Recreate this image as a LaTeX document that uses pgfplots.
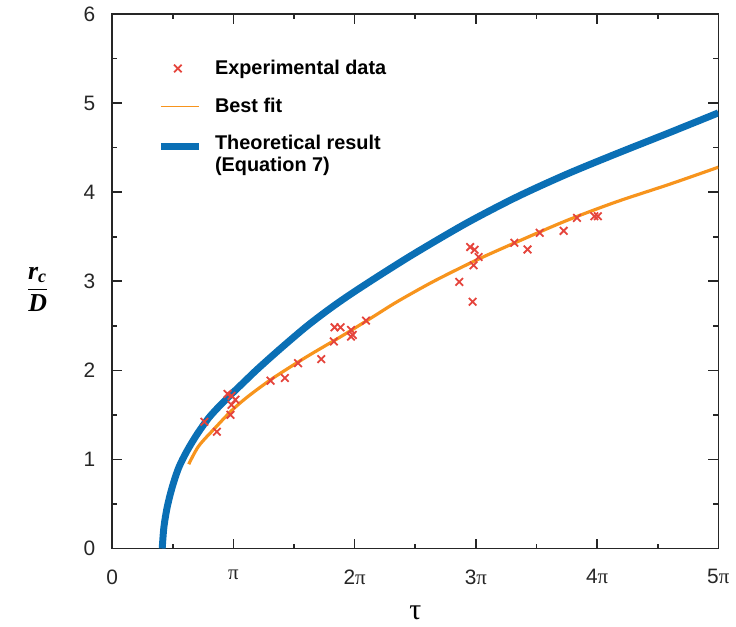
\documentclass[border=0pt]{standalone}
\usepackage{amsmath}
\usepackage{fontspec}
\setmainfont{Liberation Sans}
\newfontfamily\serif{Liberation Serif}
\usepackage{pgfplots}
\pgfplotsset{compat=1.18}
\definecolor{theo}{HTML}{0A6FB5}
\definecolor{fitc}{HTML}{F7941D}
\definecolor{expt}{HTML}{E5443C}

% x values are tau/pi
\pgfplotstableread{
x y
0.412 0
0.426 0.240
0.453 0.463
0.494 0.686
0.549 0.910
0.617 1.096
0.699 1.281
0.795 1.465
0.885 1.60
0.973 1.72
1.08 1.86
1.191 2.005
1.33 2.175
1.465 2.335
1.60 2.49
1.738 2.635
1.87 2.765
2.011 2.895
2.25 3.105
2.516 3.33
2.926 3.655
3.336 3.945
3.746 4.20
4.156 4.43
4.6 4.67
5.0 4.89
}\theory

\pgfplotstableread{
x y
0.631 0.946
0.713 1.15
0.850 1.356
0.986 1.55
1.123 1.71
1.328 1.914
1.601 2.15
1.9 2.39
2.15 2.60
2.35 2.77
2.653 3.00
3.008 3.24
3.336 3.44
3.746 3.68
4.156 3.89
4.6 4.09
5.0 4.28
}\bestfit

\pgfplotstableread{
x y
0.760 1.423
0.863 1.311
0.951 1.735
0.984 1.713
1.016 1.670
0.984 1.613
0.975 1.501
1.306 1.884
1.424 1.914
1.533 2.081
1.724 2.126
1.828 2.324
1.834 2.483
1.883 2.483
1.970 2.453
1.984 2.397
1.970 2.379
2.093 2.558
2.863 2.993
2.953 3.384
2.989 3.354
3.022 3.272
2.981 3.179
2.973 2.770
3.317 3.432
3.426 3.357
3.527 3.544
3.724 3.566
3.834 3.711
3.977 3.730
4.006 3.730
}\expdata

\begin{document}
\begin{tikzpicture}
\begin{axis}[scale only axis, width=305pt, height=269pt,
 xmin=0, xmax=5, ymin=0, ymax=6,
 xtick={0,1,2,3,4,5},
 xticklabels={0,{\serif π},2{\serif π},3{\serif π},4{\serif π},5{\serif π}},
 ytick={0,1,2,3,4,5,6},
 minor x tick num=1, minor y tick num=1,
 tick align=inside, major tick length=5pt, minor tick length=2.5pt,
 axis line style={line width=0.8pt, black!85},
 every tick/.style={line width=0.8pt, black!85},
 /pgf/number format/assume math mode=true,
 tick label style={font=\fontsize{10.5}{12}\selectfont, black!85},
 xticklabel style={yshift=-7pt},
 yticklabel style={xshift=-5pt},
 xlabel={{\serif\fontsize{15}{16}\selectfont τ}},
 xlabel style={yshift=-4pt},
 ylabel={$\dfrac{\text{\serif\bfseries\itshape r}_{\text{\serif\bfseries\itshape c}}}{\text{\serif\bfseries\itshape D}}$},
 ylabel style={rotate=-90, at={(rel axis cs:-0.123,0.485)}, anchor=center, font=\fontsize{13}{14}\selectfont},
 reverse legend,
 legend cell align=left,
 legend style={draw=none, fill=none, at={(axis cs:0.32,5.58)}, anchor=north west,
   font=\bfseries\fontsize{10}{11}\selectfont, row sep=6.3pt,
   cells={align=left},
   /tikz/every odd column/.append style={column sep=4.5pt}},
]
\addplot[theo, line width=3.5pt, smooth,
  legend image code/.code={\draw[theo, line width=3.5pt] (0pt,4.5pt) -- (19pt,4.5pt);}] table {\theory};
\addlegendentry{Theoretical result\\(Equation 7)}
\addplot[fitc, line width=1.6pt, smooth,
  legend image code/.code={\draw[fitc, line width=0.8pt] (0pt,0pt) -- (19pt,0pt);}] table {\bestfit};
\addlegendentry{Best fit}
\addplot[only marks, mark=x, mark size=2.7pt, expt, line width=0.9pt] table {\expdata};
\addlegendentry{Experimental data}
\end{axis}
\path[use as bounding box] ([shift={(-56.5pt,-37.25pt)}]current axis.south west) rectangle ([shift={(6.5pt,6.75pt)}]current axis.north east);
\end{tikzpicture}
\end{document}
